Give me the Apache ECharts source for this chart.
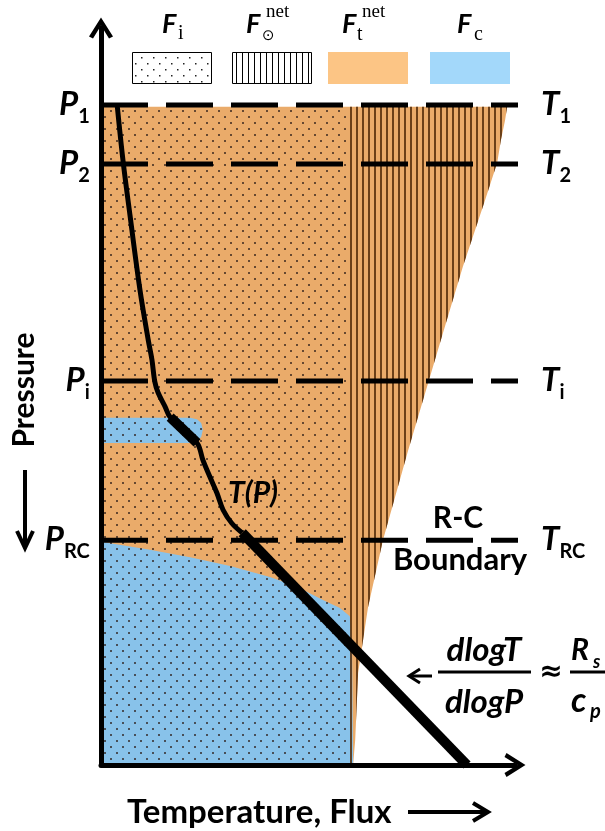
<!DOCTYPE html>
<html>
<head>
<meta charset="utf-8">
<script src="https://cdn.jsdelivr.net/npm/echarts@6/dist/echarts.min.js"></script>
<style>
html, body { margin: 0; padding: 0; background: #fff; }
#chart { width: 605px; height: 831px; }
</style>
</head>
<body>
<div id="chart"></div>
<script>
// schematic units: x = temperature / flux (0-100), y = pressure (0 top, 100 bottom)
var levelNames = ['1', '2', 'i', 'RC'];
var levelValues = [10.45, 18.45, 47.9, 69.5];

// right edge of the thermal (orange) flux region, top to bottom
var thermalEdge = [[98.1, 10.7], [97.6, 12.5], [96.6, 15.2], [95.7, 18.3], [92.8, 23.3], [87.4, 32.4],
  [82.6, 41.4], [79.0, 48.2], [74.2, 57.3], [68.1, 69.5], [64.5, 78.6], [62.1, 87.5], [61.4, 96.6], [60.9, 100]];
var solarLeft = 60.1;  // left edge of the hatched stellar flux

// convective flux (blue): deep region top edge and the thin detached layer
var convTop = [[0, 69.7], [11.8, 70.8], [21.5, 71.8], [31.2, 73.0], [40.8, 74.5], [47.3, 75.8],
  [53.6, 77.6], [57.7, 78.7], [60.1, 79.8], [60.6, 83.0], [60.9, 100]];
var convLayer = [[0, 52.9], [21.5, 52.9], [23.2, 53.1], [24.2, 53.6], [24.6, 54.5], [24.2, 55.5],
  [22.9, 56.2], [21.0, 56.3], [0, 56.3]];

// temperature profile T(P)
var tempProfile = [[3.9, 10.4], [5.3, 17.9], [7.0, 25.4], [9.4, 35.5], [11.4, 42.3], [12.3, 45.0],
  [13.0, 48.0], [13.8, 49.5], [15.5, 51.4], [16.7, 52.8], [23.2, 56.3], [24.6, 58.6], [26.3, 60.9],
  [28.0, 63.1], [29.5, 65.4], [31.6, 67.2], [34.1, 68.5]];
var convSegment = [[16.7, 52.8], [23.2, 56.3]];
var adiabat = [[34.1, 68.5], [88.4, 100]];

var chart = echarts.init(document.getElementById('chart'));

function pattern(w, h, draw) {
  var c = document.createElement('canvas');
  c.width = w; c.height = h;
  draw(c.getContext('2d'));
  return { image: c, repeat: 'repeat' };
}
var dotFill = pattern(12, 12, function (g) {
  g.fillStyle = 'rgba(45,30,25,0.7)';
  g.fillRect(2, 2, 2, 2); g.fillRect(8, 8, 2, 2);
});
var hatchFill = pattern(6, 6, function (g) {
  g.fillStyle = 'rgba(85,45,10,0.85)';
  g.fillRect(2, 0, 2, 6);
});
var legendDots = pattern(12, 12, function (g) {
  g.fillStyle = '#222';
  g.fillRect(3, 3, 1.5, 1.5); g.fillRect(9, 9, 1.5, 1.5);
});
var legendLines = pattern(6, 6, function (g) {
  g.fillStyle = '#000';
  g.fillRect(2, 0, 1, 6);
});

function area(name, pts, fill, z) {
  return {
    type: 'custom', name: name, z: z, silent: true,
    data: pts,
    renderItem: function (params, api) {
      if (params.dataIndex !== 0) return null;
      return {
        type: 'polygon',
        shape: { points: pts.map(function (p) { return api.coord(p); }) },
        style: { fill: fill }
      };
    }
  };
}

var topP = thermalEdge[0][1];
var thermalPoly = [[0, topP]].concat(thermalEdge, [[0, 100]]);
var solarPoly = [[solarLeft, topP]].concat(thermalEdge, [[solarLeft, 100]]);
var dotPoly = [[0, topP], [solarLeft, topP], [solarLeft, 100], [0, 100]];
var convPoly = convTop.concat([[0, 100]]);

var chevron = 'path://M12,0 L24,19 L20,21 L12,8 L4,21 L0,19 Z';
var bi = { fontFamily: 'Lato', fontWeight: 'bold', fontStyle: 'italic', color: '#000' };
var b = { fontFamily: 'Lato', fontWeight: 'bold', color: '#000' };
// subscript pushed down with top padding
var sym = {
  p: Object.assign({ fontSize: 33, verticalAlign: 'top' }, bi),
  s: Object.assign({ fontSize: 20, verticalAlign: 'top', padding: [19, 0, 0, 0] }, b)
};

var series = [
  area('thermal', thermalPoly, '#EAAB6A', 1),
  area('conv', convPoly, '#88C2EA', 2),
  area('convLayer', convLayer, '#88C2EA', 2),
  area('dots', dotPoly, dotFill, 3),
  area('solar', solarPoly, hatchFill, 3)
];
levelValues.forEach(function (v) {
  series.push({
    type: 'line', data: [[0, v], [103.1, v]], symbol: 'none', clip: false, z: 4, silent: true,
    lineStyle: { color: '#000', width: 5, type: [47, 18] }
  });
});
series.push({
  type: 'line', data: tempProfile, smooth: 0.35, symbol: 'none', z: 5, silent: true,
  lineStyle: { color: '#000', width: 5 }
});
series.push({
  type: 'line', data: convSegment, symbol: 'none', z: 6, silent: true,
  lineStyle: { color: '#000', width: 10 }
});
series.push({
  type: 'line', data: adiabat, symbol: 'none', z: 6, silent: true, clip: false,
  lineStyle: { color: '#000', width: 10 }
});
series.push({
  type: 'scatter', symbolSize: 0, z: 8, silent: true, clip: false,
  itemStyle: { opacity: 1 },
  data: levelValues.map(function (v, i) {
    return {
      value: [-2.7, v],
      label: { show: true, position: 'left', distance: 0, offset: [0, 2], color: '#000', rich: sym,
        formatter: '{p|P}{s|' + levelNames[i] + '}' }
    };
  }).concat(levelValues.map(function (v, i) {
    return {
      value: [106.3, v],
      label: { show: true, position: 'right', distance: 0, offset: [0, 2], color: '#000', rich: sym,
        formatter: '{p|T}{s|' + levelNames[i] + '}' }
    };
  }))
});

function txt(x, y, text, font, extra) {
  return Object.assign({ type: 'text', x: x, y: y, z: 20,
    style: Object.assign({ text: text, fill: '#000', align: 'left', verticalAlign: 'middle' }, font) }, extra || {});
}
function fnt(size, italic, family) {
  return { fontFamily: family || 'Lato', fontWeight: family ? 'normal' : 'bold',
    fontStyle: italic ? 'italic' : 'normal', fontSize: size };
}
function stroke(points, w) {
  return { type: 'polyline', z: 20, shape: { points: points },
    style: { stroke: '#000', lineWidth: w, fill: null, lineJoin: 'miter' } };
}

var graphics = [
  // legend swatches
  { type: 'rect', shape: { x: 132.5, y: 52.5, width: 79, height: 31 }, style: { fill: legendDots, stroke: '#000', lineWidth: 1 } },
  { type: 'rect', shape: { x: 232.5, y: 52.5, width: 79, height: 31 }, style: { fill: legendLines, stroke: '#000', lineWidth: 1 } },
  { type: 'rect', shape: { x: 328, y: 52, width: 80, height: 32 }, style: { fill: '#FCC585' } },
  { type: 'rect', shape: { x: 430, y: 52, width: 80, height: 32 }, style: { fill: '#A3D8FA' } },
  txt(162, 24, 'F', fnt(27, true)),
  txt(178, 34, 'i', fnt(20, false, 'Liberation Serif')),
  txt(246, 24, 'F', fnt(27, true)),
  txt(266, 12, 'net', fnt(19, false, 'Liberation Serif')),
  txt(262, 36, '\u2299', fnt(15, false, 'DejaVu Sans')),
  txt(342, 24, 'F', fnt(27, true)),
  txt(362, 12, 'net', fnt(19, false, 'Liberation Serif')),
  txt(357, 35, 't', fnt(20, false, 'Liberation Serif')),
  txt(457, 24, 'F', fnt(27, true)),
  txt(474, 35, 'c', fnt(20, false, 'Liberation Serif')),
  // axis titles
  txt(24, 390, 'Pressure', Object.assign(fnt(30), { align: 'center' }), { rotation: Math.PI / 2 }),
  stroke([[25, 470], [25, 546]], 4),
  stroke([[17, 531], [25, 548], [33, 531]], 4),
  txt(127, 812, 'Temperature, Flux', fnt(33)),
  stroke([[408, 812], [486, 812]], 4),
  stroke([[473, 803], [488, 812], [473, 821]], 4),
  // annotations
  txt(253, 493, 'T(P)', Object.assign(fnt(30, true), { align: 'center' })),
  txt(458, 518, 'R-C', Object.assign(fnt(30), { align: 'center' })),
  txt(460, 560, 'Boundary', Object.assign(fnt(31), { align: 'center' })),
  stroke([[410, 676], [432, 676]], 3),
  stroke([[420, 669], [409, 676], [420, 683]], 3),
  txt(484, 650, 'dlogT', Object.assign(fnt(33, true), { align: 'center' })),
  stroke([[438, 672], [531, 672]], 3),
  txt(484, 702, 'dlogP', Object.assign(fnt(33, true), { align: 'center' })),
  txt(551, 673, '\u2248', { fontFamily: 'DejaVu Sans', fontWeight: 'bold', fontSize: 28, align: 'center' }),
  txt(571, 650, 'R', fnt(30, true)),
  txt(593, 662, 's', fnt(18, true)),
  stroke([[570, 672], [605, 672]], 3),
  txt(571, 701, 'c', fnt(34, true)),
  txt(590, 712, 'p', fnt(20, true))
];

var axisBase = {
  type: 'value', min: 0, max: 100, z: 10,
  axisTick: { show: false }, axisLabel: { show: false }, splitLine: { show: false }
};

chart.setOption({
  animation: false,
  grid: { left: 101, right: 90, top: 28, bottom: 66 },
  xAxis: Object.assign({}, axisBase, {
    axisLine: { show: true, onZero: false, symbol: ['none', chevron], symbolSize: [24, 21],
      lineStyle: { color: '#000', width: 5 } }
  }),
  yAxis: Object.assign({}, axisBase, {
    inverse: true,
    axisLine: { show: true, onZero: false, symbol: ['none', chevron], symbolSize: [24, 21],
      lineStyle: { color: '#000', width: 5 } }
  }),
  graphic: graphics,
  series: series
});
</script>
</body>
</html>
